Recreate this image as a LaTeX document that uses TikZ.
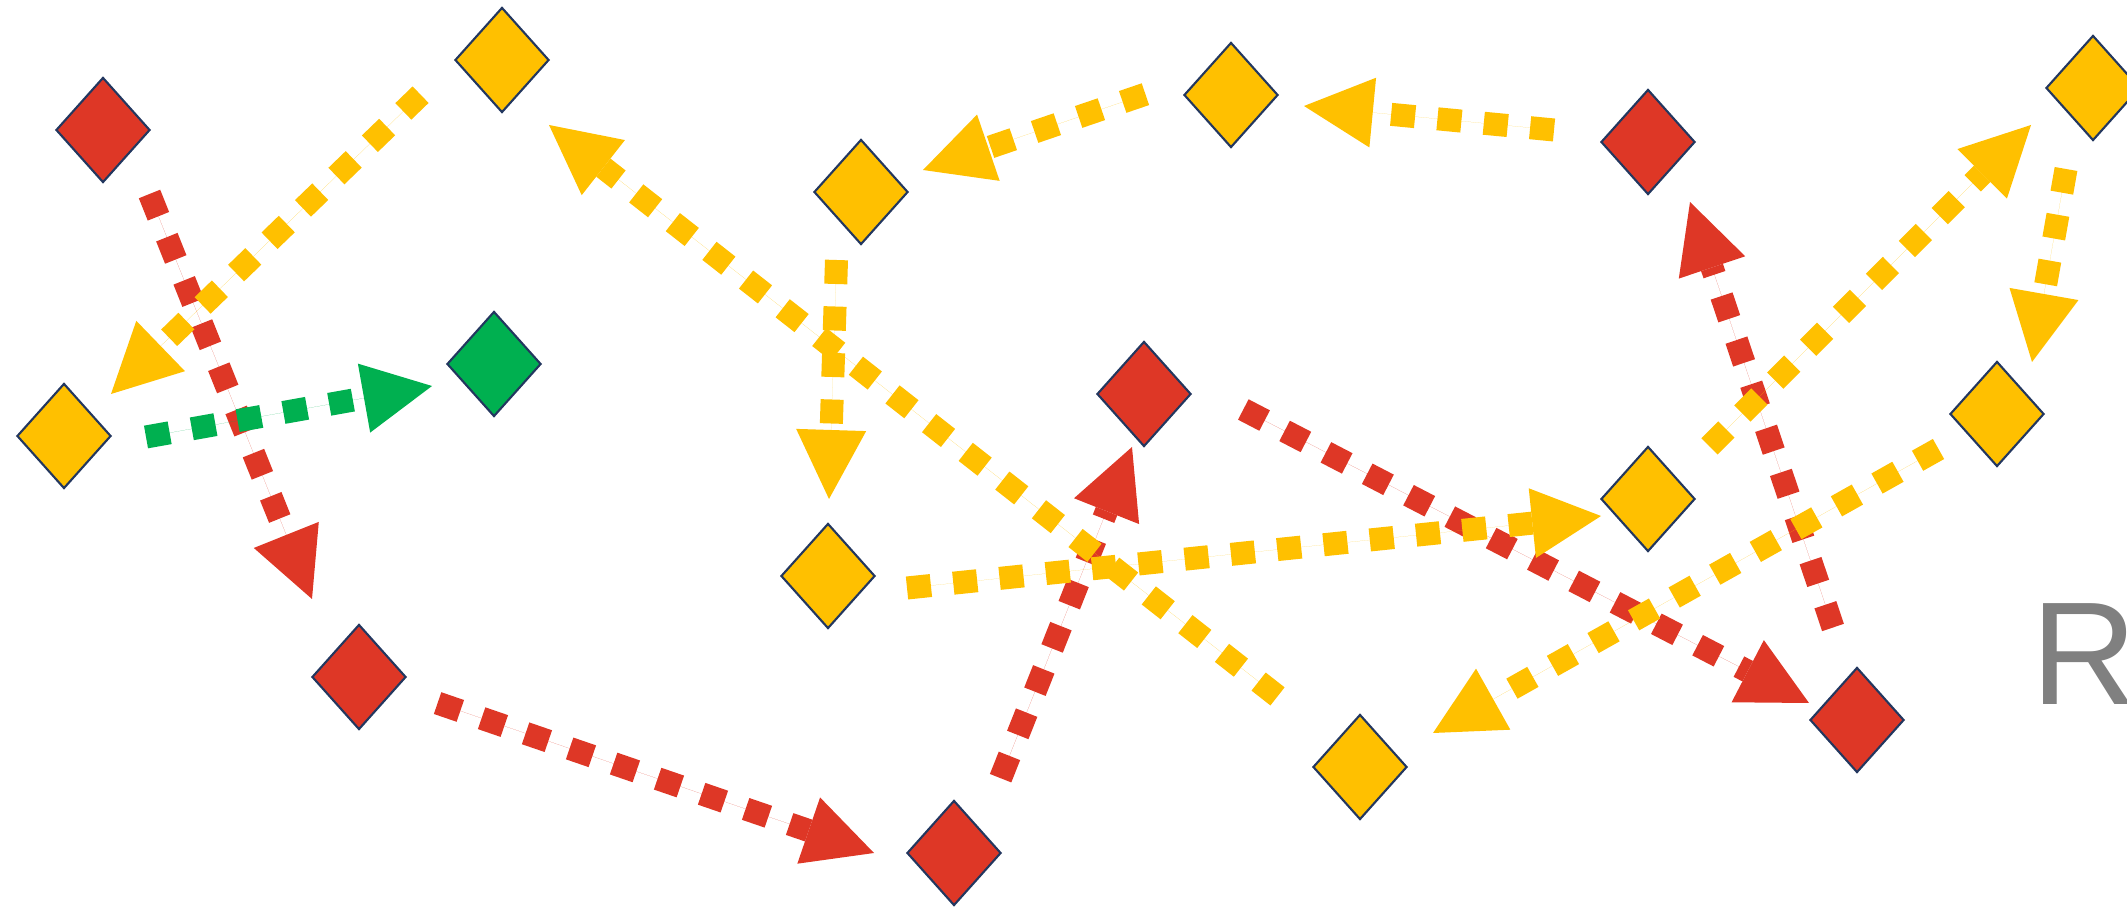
\documentclass[tikz,border=0pt]{standalone}
\usepackage{fontspec}
\setmainfont{Liberation Sans}
\usetikzlibrary{arrows.meta,shapes.geometric}
\definecolor{cred}{RGB}{222,55,38}
\definecolor{cyel}{RGB}{255,192,0}
\definecolor{cgrn}{RGB}{0,176,80}
\definecolor{cnavy}{RGB}{35,55,95}
\definecolor{cgray}{RGB}{128,128,128}
\begin{document}
\begin{tikzpicture}[x=0.01cm,y=-0.01cm,
  dia/.style={diamond, draw=cnavy, line width=0.6pt, minimum width=0.94cm, minimum height=1.05cm, inner sep=0pt},
  conn/.style={line width=0.23cm, dash pattern=on 0.24cm off 0.225cm,
    -{Triangle[length=0.69cm,width=0.70cm,line width=0pt]}},
  redc/.style={conn, draw=cred, fill=cred},
  yelc/.style={conn, draw=cyel, fill=cyel},
  grnc/.style={conn, draw=cgrn, fill=cgrn},
]
\useasboundingbox (0,0) rectangle (2127,907);
\clip (0,0) rectangle (2127,907);
% nodes
\node[dia,fill=cred] (d1) at (103,130) {};
\node[dia,fill=cyel] (d2) at (502,60) {};
\node[dia,fill=cyel] (d3) at (64,436) {};
\node[dia,fill=cgrn] (d4) at (494,364) {};
\node[dia,fill=cyel] (d5) at (861,192) {};
\node[dia,fill=cyel] (d6) at (1231,95) {};
\node[dia,fill=cred] (d7) at (1648,142) {};
\node[dia,fill=cyel] (d8) at (2093,88) {};
\node[dia,fill=cred] (d9) at (1144,394) {};
\node[dia,fill=cyel] (d10) at (1648,499) {};
\node[dia,fill=cyel] (d11) at (1997,414) {};
\node[dia,fill=cyel] (d12) at (828,576) {};
\node[dia,fill=cred] (d13) at (359,677) {};
\node[dia,fill=cred] (d14) at (954,853) {};
\node[dia,fill=cyel] (d15) at (1360,767) {};
\node[dia,fill=cred] (d16) at (1857,720) {};
\node[anchor=base west, text=cgray, inner sep=0pt,
  font=\fontsize{41.7}{50}\selectfont] (lbl) at (2031,705) {R};
% connector end points
\coordinate (s1) at (149.5,194);   \coordinate (t1) at (312,599);
\coordinate (s2) at (420.6,94.7);  \coordinate (t2) at (111,394);
\coordinate (s3) at (146,437);     \coordinate (t3) at (432,386);
\coordinate (s4) at (1277.5,696.4);\coordinate (t4) at (549,125);
\coordinate (s5) at (836.5,260);   \coordinate (t5) at (829,499);
\coordinate (s6) at (1145.4,94.2); \coordinate (t6) at (923,170);
\coordinate (s7) at (1554,130);    \coordinate (t7) at (1304,106);
\coordinate (s8) at (1833,627.5);  \coordinate (t8) at (1690,202);
\coordinate (s9) at (1709.4,446.4);\coordinate (t9) at (2031,125);
\coordinate (s10) at (2066,169);   \coordinate (t10) at (2032,362);
\coordinate (s11) at (1243.3,409.5);\coordinate (t11) at (1809,703);
\coordinate (s12) at (907,588);    \coordinate (t12) at (1601,516);
\coordinate (s13) at (437.6,703.1);\coordinate (t13) at (874,853);
\coordinate (s14) at (1000.6,778.2);\coordinate (t14) at (1132,447);
\coordinate (s15) at (1938.5,449); \coordinate (t15) at (1433,733);
% red connectors
\draw[redc] (s1) -- (t1);
\draw[redc] (s8) -- (t8);
\draw[redc] (s11) -- (t11);
\draw[redc] (s13) -- (t13);
\draw[redc] (s14) -- (t14);
% yellow connectors
\draw[yelc] (s2) -- (t2);
\draw[yelc] (s4) -- (t4);
\draw[yelc] (s5) -- (t5);
\draw[yelc] (s6) -- (t6);
\draw[yelc] (s7) -- (t7);
\draw[yelc] (s9) -- (t9);
\draw[yelc] (s10) -- (t10);
\draw[yelc] (s12) -- (t12);
\draw[yelc] (s15) -- (t15);
% green connector
\draw[grnc] (s3) -- (t3);
\end{tikzpicture}
\end{document}
